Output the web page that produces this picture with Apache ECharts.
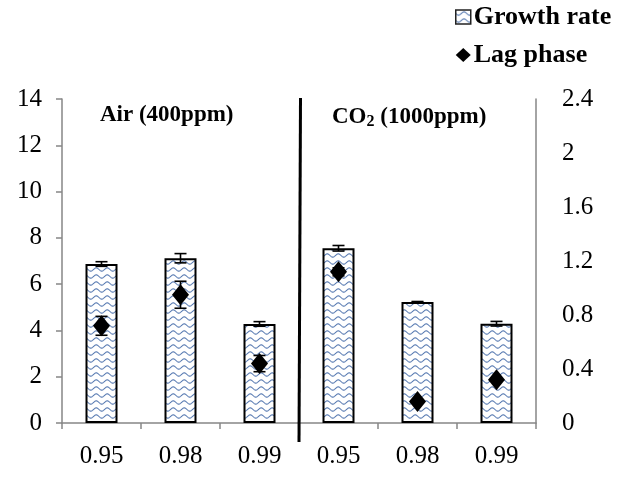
<!DOCTYPE html>
<html><head><meta charset="utf-8">
<script src="https://cdn.jsdelivr.net/npm/echarts@6/dist/echarts.min.js"></script>
<style>html,body{margin:0;padding:0;background:#fff}#c{width:628px;height:477px}</style>
</head><body><div id="c"></div>
<script>
const categories = ['0.95', '0.98', '0.99', '0.95', '0.98', '0.99'];
const growthRate = [6.87, 7.12, 4.28, 7.55, 5.23, 4.29];
const growthErr = [0.1, 0.2, 0.1, 0.12, 0.02, 0.1];
const lagPhase = [0.72, 0.95, 0.44, 1.12, 0.16, 0.32];
const lagErr = [0.07, 0.1, 0.06, 0.03, 0, 0];
const groupLabels = ['Air (400ppm)', 'CO2 (1000ppm)'];

const FONT = '"Liberation Serif", "Times New Roman", serif';

// wavy pattern
const pc = document.createElement('canvas');
pc.width = 11; pc.height = 7;
const g = pc.getContext('2d');
g.fillStyle = '#ffffff'; g.fillRect(0, 0, 11, 7);
g.strokeStyle = '#5b7db3'; g.lineWidth = 1.1;
g.beginPath();
for (let x = 0; x <= 11; x += 0.5) {
  const y = 3.5 + 1.6 * Math.sin(2 * Math.PI * x / 11);
  if (x === 0) g.moveTo(x, y); else g.lineTo(x, y);
}
g.stroke();
const pattern = { image: pc, repeat: 'repeat' };

const chart = echarts.init(document.getElementById('c'), null, { renderer: 'canvas' });

function errItem(errArr, valArr, capHalf) {
  return function (params, api) {
    const i = api.value(0);
    const v = valArr[i], e = errArr[i];
    if (!e) return { type: 'group', children: [] };
    const top = api.coord([i, v + e]);
    const bot = api.coord([i, v - e]);
    const style = { stroke: '#000', lineWidth: 1.6 };
    return {
      type: 'group',
      children: [
        { type: 'line', shape: { x1: top[0], y1: top[1], x2: bot[0], y2: bot[1] }, style },
        { type: 'line', shape: { x1: top[0] - capHalf, y1: top[1], x2: top[0] + capHalf, y2: top[1] }, style },
        { type: 'line', shape: { x1: bot[0] - capHalf, y1: bot[1], x2: bot[0] + capHalf, y2: bot[1] }, style }
      ]
    };
  };
}

const option = {
  animation: false,
  backgroundColor: '#fff',
  textStyle: { fontFamily: FONT },
  grid: { left: 62, right: 92, top: 99, bottom: 54, containLabel: false },
  legend: {
    orient: 'vertical',
    left: 455, top: 4,
    padding: 0,
    itemGap: 12,
    itemWidth: 15, itemHeight: 14,
    textStyle: { fontFamily: FONT, fontWeight: 'bold', fontSize: 26, color: '#000', padding: [0, 0, 0, -2] },
    data: [
      { name: 'Growth rate', icon: 'rect', itemStyle: { color: pattern, borderColor: '#222', borderWidth: 1.5 } },
      { name: 'Lag phase', icon: 'diamond', itemStyle: { color: '#000', opacity: 1 } }
    ]
  },
  xAxis: {
    type: 'category',
    data: categories,
    axisLine: { lineStyle: { color: '#868686', width: 1.5 } },
    axisTick: { show: true, length: 6, lineStyle: { color: '#868686', width: 1.5 } },
    axisLabel: { color: '#000', fontSize: 25, fontFamily: FONT, margin: 21 }
  },
  yAxis: [
    {
      type: 'value', min: 0, max: 14, interval: 2,
      splitLine: { show: false },
      axisLine: { show: true, lineStyle: { color: '#868686', width: 1.5 } },
      axisTick: { show: true, length: 6, lineStyle: { color: '#868686', width: 1.5 } },
      axisLabel: { color: '#000', fontSize: 25, fontFamily: FONT, margin: 20 }
    },
    {
      type: 'value', min: 0, max: 2.4, interval: 0.4,
      position: 'right',
      splitLine: { show: false },
      axisLine: { show: true, lineStyle: { color: '#868686', width: 1.5 } },
      axisTick: { show: false },
      axisLabel: { color: '#000', fontSize: 25, fontFamily: FONT, margin: 26 }
    }
  ],
  series: [
    {
      name: 'Growth rate', type: 'bar', data: growthRate, barWidth: 32,
      itemStyle: { color: pattern, borderColor: '#000', borderWidth: 2 },
      z: 2
    },
    {
      name: 'growthErr', type: 'custom', data: growthRate.map((v, i) => [i, v]),
      renderItem: errItem(growthErr, growthRate, 6), z: 3, silent: true
    },
    {
      name: 'lagErr', type: 'custom', yAxisIndex: 1, data: lagPhase.map((v, i) => [i, v]),
      renderItem: errItem(lagErr, lagPhase, 6), z: 4, silent: true
    },
    {
      name: 'Lag phase', type: 'scatter', yAxisIndex: 1, data: lagPhase,
      symbol: 'diamond', symbolSize: [17, 21],
      itemStyle: { color: '#000', opacity: 1 }, z: 5
    }
  ]
};
chart.setOption(option);

const p2 = chart.convertToPixel({ xAxisIndex: 0 }, 2);
const p3 = chart.convertToPixel({ xAxisIndex: 0 }, 3);
const divX = (p2 + p3) / 2;
const yTop = chart.convertToPixel({ yAxisIndex: 0 }, 14);
const yBot = chart.convertToPixel({ yAxisIndex: 0 }, 0);

chart.setOption({
  graphic: [
    { type: 'line', shape: { x1: divX + 1.5, y1: yTop - 1, x2: divX, y2: yBot + 19 }, style: { stroke: '#000', lineWidth: 3 }, z: 10 },
    { type: 'text', left: 100, top: 104, style: { text: groupLabels[0], font: 'bold 23px ' + FONT, fill: '#000' }, z: 10 },
    { type: 'text', left: 332, top: 104, style: {
        text: '{m|CO}{s|2}{m| (1000ppm)}',
        rich: {
          m: { font: 'bold 23px ' + FONT, fill: '#000', lineHeight: 26 },
          s: { font: 'bold 16px ' + FONT, fill: '#000', lineHeight: 26, padding: [10, 0, 0, 0] }
        }
      }, z: 10 }
  ]
});
</script>
</body></html>
